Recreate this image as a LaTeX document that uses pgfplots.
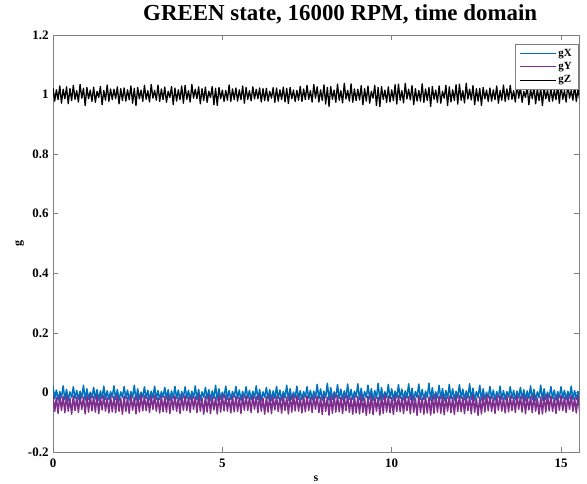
\documentclass[border=0pt]{standalone}
\usepackage{pgfplots}
\pgfplotsset{compat=1.18}
\usepackage{pgfplotstable}
\usepackage{fontspec}
\setmainfont{Liberation Serif}
\definecolor{mblue}{rgb}{0.0,0.447,0.741}
\definecolor{mpurple}{rgb}{0.494,0.184,0.556}
\pgfplotstableread{
t gx gy gz
0.00 0.020 -0.012 1.022
0.05 -0.021 -0.064 0.978
0.10 0.008 -0.017 1.016
0.15 -0.026 -0.070 0.983
0.20 0.003 -0.011 1.029
0.25 -0.018 -0.060 0.971
0.30 0.022 -0.014 1.018
0.35 -0.024 -0.068 0.986
0.40 0.010 -0.009 1.026
0.45 -0.028 -0.063 0.969
0.50 0.002 -0.019 1.020
0.55 -0.017 -0.073 0.980
0.60 0.019 -0.011 1.031
0.65 -0.020 -0.061 0.984
0.70 0.007 -0.016 1.013
0.75 -0.025 -0.067 0.975
0.80 0.004 -0.012 1.034
0.85 -0.019 -0.057 0.988
0.90 0.024 -0.016 1.021
0.95 -0.026 -0.072 0.963
1.00 0.012 -0.011 1.024
1.05 -0.023 -0.066 0.986
1.10 0.001 -0.008 1.015
1.15 -0.018 -0.062 0.977
1.20 0.017 -0.013 1.025
1.25 -0.022 -0.066 0.974
1.30 0.009 -0.010 1.011
1.35 -0.027 -0.071 0.990
1.40 0.005 -0.015 1.027
1.45 -0.020 -0.059 0.966
1.50 0.021 -0.010 1.014
1.55 -0.023 -0.063 0.981
1.60 0.006 -0.018 1.032
1.65 -0.024 -0.069 0.977
1.70 0.003 -0.012 1.019
1.75 -0.016 -0.065 0.983
1.80 0.022 -0.014 1.018
1.85 -0.024 -0.068 0.986
1.90 0.010 -0.009 1.026
1.95 -0.028 -0.063 0.969
2.00 0.002 -0.019 1.020
2.05 -0.017 -0.073 0.980
2.10 0.020 -0.012 1.022
2.15 -0.021 -0.064 0.978
2.20 0.008 -0.017 1.016
2.25 -0.026 -0.070 0.983
2.30 0.003 -0.011 1.029
2.35 -0.018 -0.060 0.971
2.40 0.024 -0.016 1.021
2.45 -0.026 -0.072 0.963
2.50 0.012 -0.011 1.024
2.55 -0.023 -0.066 0.986
2.60 0.001 -0.008 1.015
2.65 -0.018 -0.062 0.977
2.70 0.019 -0.011 1.031
2.75 -0.020 -0.061 0.984
2.80 0.007 -0.016 1.013
2.85 -0.025 -0.067 0.975
2.90 0.004 -0.012 1.034
2.95 -0.019 -0.057 0.988
3.00 0.021 -0.010 1.014
3.05 -0.023 -0.063 0.981
3.10 0.006 -0.018 1.032
3.15 -0.024 -0.069 0.977
3.20 0.003 -0.012 1.019
3.25 -0.016 -0.065 0.983
3.30 0.017 -0.013 1.025
3.35 -0.022 -0.066 0.974
3.40 0.009 -0.010 1.011
3.45 -0.027 -0.071 0.990
3.50 0.005 -0.015 1.027
3.55 -0.020 -0.059 0.966
3.60 0.020 -0.012 1.022
3.65 -0.021 -0.064 0.978
3.70 0.008 -0.017 1.016
3.75 -0.026 -0.070 0.983
3.80 0.003 -0.011 1.029
3.85 -0.018 -0.060 0.971
3.90 0.019 -0.011 1.031
3.95 -0.020 -0.061 0.984
4.00 0.007 -0.016 1.013
4.05 -0.025 -0.067 0.975
4.10 0.004 -0.012 1.034
4.15 -0.019 -0.057 0.988
4.20 0.022 -0.014 1.018
4.25 -0.024 -0.068 0.986
4.30 0.010 -0.009 1.026
4.35 -0.028 -0.063 0.969
4.40 0.002 -0.019 1.020
4.45 -0.017 -0.073 0.980
4.50 0.017 -0.013 1.025
4.55 -0.022 -0.066 0.974
4.60 0.009 -0.010 1.011
4.65 -0.027 -0.071 0.990
4.70 0.005 -0.015 1.027
4.75 -0.020 -0.059 0.966
4.80 0.024 -0.016 1.021
4.85 -0.026 -0.072 0.963
4.90 0.012 -0.011 1.024
4.95 -0.023 -0.066 0.986
5.00 0.001 -0.008 1.015
5.05 -0.018 -0.062 0.977
5.10 0.021 -0.010 1.014
5.15 -0.023 -0.063 0.981
5.20 0.006 -0.018 1.032
5.25 -0.024 -0.069 0.977
5.30 0.003 -0.012 1.019
5.35 -0.016 -0.065 0.983
5.40 0.020 -0.012 1.022
5.45 -0.021 -0.064 0.978
5.50 0.008 -0.017 1.016
5.55 -0.026 -0.070 0.983
5.60 0.003 -0.011 1.029
5.65 -0.018 -0.060 0.971
5.70 0.019 -0.011 1.024
5.75 -0.020 -0.061 0.984
5.80 0.007 -0.016 1.013
5.85 -0.025 -0.067 0.979
5.90 0.004 -0.012 1.026
5.95 -0.019 -0.057 0.985
6.00 0.022 -0.014 1.018
6.05 -0.024 -0.068 0.986
6.10 0.010 -0.009 1.022
6.15 -0.028 -0.063 0.975
6.20 0.002 -0.019 1.020
6.25 -0.017 -0.073 0.980
6.30 0.017 -0.013 1.021
6.35 -0.022 -0.066 0.978
6.40 0.009 -0.010 1.011
6.45 -0.027 -0.071 0.988
6.50 0.005 -0.015 1.023
6.55 -0.020 -0.059 0.974
6.60 0.020 -0.012 1.022
6.65 -0.021 -0.064 0.978
6.70 0.008 -0.017 1.016
6.75 -0.026 -0.070 0.983
6.80 0.003 -0.011 1.025
6.85 -0.018 -0.060 0.975
6.90 0.024 -0.016 1.021
6.95 -0.026 -0.072 0.970
7.00 0.012 -0.011 1.024
7.05 -0.023 -0.066 0.986
7.10 0.001 -0.008 1.015
7.15 -0.018 -0.062 0.977
7.20 0.021 -0.010 1.014
7.25 -0.023 -0.063 0.981
7.30 0.006 -0.018 1.028
7.35 -0.024 -0.069 0.977
7.40 0.003 -0.012 1.019
7.45 -0.016 -0.065 0.983
7.50 0.019 -0.011 1.031
7.55 -0.020 -0.061 0.984
7.60 0.007 -0.016 1.013
7.65 -0.025 -0.067 0.975
7.70 0.004 -0.012 1.034
7.75 -0.019 -0.057 0.988
7.80 0.027 -0.012 1.026
7.85 -0.021 -0.068 0.975
7.90 0.012 -0.017 1.016
7.95 -0.026 -0.074 0.980
8.00 0.004 -0.011 1.033
8.05 -0.018 -0.064 0.968
8.10 0.031 -0.016 1.024
8.15 -0.026 -0.076 0.960
8.20 0.016 -0.011 1.027
8.25 -0.023 -0.070 0.984
8.30 0.002 -0.008 1.015
8.35 -0.018 -0.066 0.974
8.40 0.026 -0.011 1.035
8.45 -0.020 -0.065 0.981
8.50 0.011 -0.016 1.013
8.55 -0.025 -0.071 0.972
8.60 0.005 -0.012 1.038
8.65 -0.019 -0.061 0.985
8.70 0.028 -0.010 1.014
8.75 -0.023 -0.067 0.978
8.80 0.010 -0.018 1.036
8.85 -0.024 -0.073 0.974
8.90 0.004 -0.012 1.019
8.95 -0.016 -0.069 0.980
9.00 0.029 -0.014 1.018
9.05 -0.024 -0.072 0.982
9.10 0.014 -0.009 1.030
9.15 -0.028 -0.067 0.966
9.20 0.003 -0.019 1.020
9.25 -0.017 -0.077 0.978
9.30 0.024 -0.013 1.029
9.35 -0.022 -0.070 0.971
9.40 0.013 -0.010 1.011
9.45 -0.027 -0.075 0.988
9.50 0.006 -0.015 1.031
9.55 -0.020 -0.063 0.963
9.60 0.031 -0.016 1.024
9.65 -0.026 -0.076 0.960
9.70 0.016 -0.011 1.027
9.75 -0.023 -0.070 0.984
9.80 0.002 -0.008 1.015
9.85 -0.018 -0.066 0.974
9.90 0.027 -0.012 1.026
9.95 -0.021 -0.068 0.975
10.00 0.012 -0.017 1.016
10.05 -0.026 -0.074 0.980
10.10 0.004 -0.011 1.033
10.15 -0.018 -0.064 0.968
10.20 0.026 -0.011 1.035
10.25 -0.020 -0.065 0.981
10.30 0.011 -0.016 1.013
10.35 -0.025 -0.071 0.972
10.40 0.005 -0.012 1.038
10.45 -0.019 -0.061 0.985
10.50 0.029 -0.014 1.018
10.55 -0.024 -0.072 0.982
10.60 0.014 -0.009 1.030
10.65 -0.028 -0.067 0.966
10.70 0.003 -0.019 1.020
10.75 -0.017 -0.077 0.978
10.80 0.028 -0.010 1.014
10.85 -0.023 -0.067 0.978
10.90 0.010 -0.018 1.036
10.95 -0.024 -0.073 0.974
11.00 0.004 -0.012 1.019
11.05 -0.016 -0.069 0.980
11.10 0.031 -0.016 1.024
11.15 -0.026 -0.076 0.960
11.20 0.016 -0.011 1.027
11.25 -0.023 -0.070 0.984
11.30 0.002 -0.008 1.015
11.35 -0.018 -0.066 0.974
11.40 0.024 -0.013 1.029
11.45 -0.022 -0.070 0.971
11.50 0.013 -0.010 1.011
11.55 -0.027 -0.075 0.988
11.60 0.006 -0.015 1.031
11.65 -0.020 -0.063 0.963
11.70 0.027 -0.012 1.026
11.75 -0.021 -0.068 0.975
11.80 0.012 -0.017 1.016
11.85 -0.026 -0.074 0.980
11.90 0.004 -0.011 1.033
11.95 -0.018 -0.064 0.968
12.00 0.026 -0.011 1.035
12.05 -0.020 -0.065 0.981
12.10 0.011 -0.016 1.013
12.15 -0.025 -0.071 0.972
12.20 0.005 -0.012 1.038
12.25 -0.019 -0.061 0.985
12.30 0.029 -0.014 1.018
12.35 -0.024 -0.072 0.982
12.40 0.014 -0.009 1.030
12.45 -0.028 -0.067 0.966
12.50 0.003 -0.019 1.020
12.55 -0.017 -0.077 0.978
12.60 0.024 -0.016 1.021
12.65 -0.026 -0.072 0.963
12.70 0.012 -0.011 1.024
12.75 -0.023 -0.066 0.986
12.80 0.001 -0.008 1.015
12.85 -0.018 -0.062 0.977
12.90 0.020 -0.012 1.022
12.95 -0.021 -0.064 0.978
13.00 0.008 -0.017 1.016
13.05 -0.026 -0.070 0.983
13.10 0.003 -0.011 1.029
13.15 -0.018 -0.060 0.971
13.20 0.021 -0.010 1.014
13.25 -0.023 -0.063 0.981
13.30 0.006 -0.018 1.032
13.35 -0.024 -0.069 0.977
13.40 0.003 -0.012 1.019
13.45 -0.016 -0.065 0.983
13.50 0.019 -0.011 1.031
13.55 -0.020 -0.061 0.984
13.60 0.007 -0.016 1.013
13.65 -0.025 -0.067 0.975
13.70 0.004 -0.012 1.034
13.75 -0.019 -0.057 0.988
13.80 0.017 -0.013 1.025
13.85 -0.022 -0.066 0.974
13.90 0.009 -0.010 1.011
13.95 -0.027 -0.071 0.990
14.00 0.005 -0.015 1.027
14.05 -0.020 -0.059 0.966
14.10 0.022 -0.014 1.018
14.15 -0.024 -0.068 0.986
14.20 0.010 -0.009 1.026
14.25 -0.028 -0.063 0.969
14.30 0.002 -0.019 1.020
14.35 -0.017 -0.073 0.980
14.40 0.024 -0.016 1.021
14.45 -0.026 -0.072 0.963
14.50 0.012 -0.011 1.024
14.55 -0.023 -0.066 0.986
14.60 0.001 -0.008 1.015
14.65 -0.018 -0.062 0.977
14.70 0.020 -0.012 1.022
14.75 -0.021 -0.064 0.978
14.80 0.008 -0.017 1.016
14.85 -0.026 -0.070 0.983
14.90 0.003 -0.011 1.029
14.95 -0.018 -0.060 0.971
15.00 0.019 -0.011 1.031
15.05 -0.020 -0.061 0.984
15.10 0.007 -0.016 1.013
15.15 -0.025 -0.067 0.975
15.20 0.004 -0.012 1.034
15.25 -0.019 -0.057 0.988
15.30 0.021 -0.010 1.014
15.35 -0.023 -0.063 0.981
15.40 0.006 -0.018 1.032
15.45 -0.024 -0.069 0.977
15.50 0.003 -0.012 1.019
15.55 -0.016 -0.065 0.983
}\data
\begin{document}
\begin{tikzpicture}
\begin{axis}[name=ax, scale only axis, width=526bp, height=417bp,
  xmin=0, xmax=15.53, ymin=-0.2, ymax=1.2,
  xtick={0,5,10,15}, ytick={-0.2,0,0.2,0.4,0.6,0.8,1,1.2},
  /pgf/number format/assume math mode=true,
  ticklabel style={font=\fontsize{13}{15}\selectfont\bfseries},
  xticklabel style={yshift=-3bp},
  yticklabel style={xshift=-1bp},
  tick align=inside, major tick length=5bp,
  axis line style={black!50}, tick style={black!50, line width=0.5pt},
  title={GREEN state, 16000 RPM, time domain},
  title style={font=\fontsize{23}{27}\selectfont\bfseries, at={(0.546,1)}, anchor=south, yshift=1bp},
  xlabel={s}, ylabel={g},
  label style={font=\fontsize{12}{14}\selectfont\bfseries},
  xlabel style={yshift=-2bp},
  ylabel style={yshift=-3bp},
  legend style={at={(0.998,0.978)}, anchor=north east, draw=black!50,
    font=\fontsize{11}{13}\selectfont\bfseries, row sep=0.5bp, inner xsep=4bp, inner ysep=3bp},
  legend cell align=left,
  legend image code/.code={\draw[#1, line width=0.8pt] (2bp,0bp) -- (38bp,0bp);},
]
\addplot[mblue, line width=1.5pt, line join=round] table[x=t, y=gx] {\data};
\addlegendentry{gX}
\addplot[mpurple, line width=1.5pt, line join=round] table[x=t, y=gy] {\data};
\addlegendentry{gY}
\addplot[black, line width=1.3pt, line join=round] table[x=t, y=gz] {\data};
\addlegendentry{gZ}
\end{axis}
\pgfresetboundingbox
\path[use as bounding box] ([shift={(-53bp,-32bp)}]ax.south west) rectangle ([shift={(8bp,35bp)}]ax.north east);
\end{tikzpicture}
\end{document}
